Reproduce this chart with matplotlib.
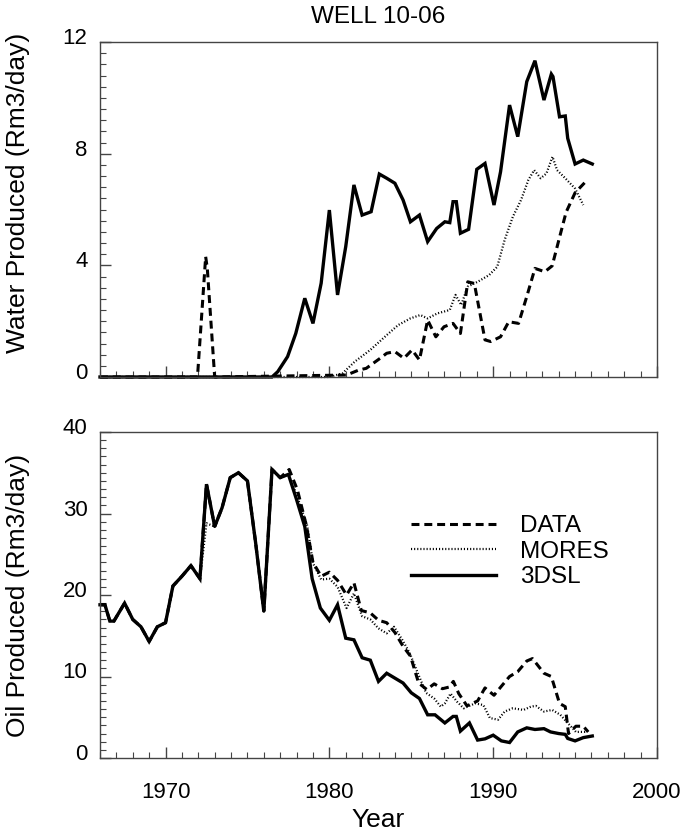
import matplotlib
matplotlib.use("Agg")
import matplotlib.pyplot as plt
import matplotlib.transforms as mtransforms
from matplotlib.ticker import MultipleLocator

plt.rcParams['font.family'] = ['Liberation Sans', 'DejaVu Sans']

# water produced (Rm3/day)
W_3DSL_YR = [1966.0, 1976.5, 1976.85, 1977.45, 1977.95, 1978.5, 1979.0, 1979.5, 1980.0, 1980.5,
             1981.0, 1981.5, 1982.0, 1982.55, 1983.05, 1983.5, 1984.0, 1984.5, 1984.95, 1985.5,
             1986.0, 1986.55, 1987.05, 1987.35, 1987.55, 1987.75, 1988.0, 1988.5, 1989.0, 1989.5,
             1990.05, 1990.45, 1991.0, 1991.5, 1992.05, 1992.55, 1993.1, 1993.55, 1993.65, 1994.05,
             1994.4, 1994.55, 1995.0, 1995.5, 1996.05]
W_3DSL = [0.0, 0.0, 0.19, 0.73, 1.56, 2.82, 1.92, 3.36, 5.98, 2.94,
          4.67, 6.88, 5.80, 5.92, 7.27, 7.12, 6.94, 6.34, 5.56, 5.80,
          4.85, 5.32, 5.56, 5.53, 6.28, 6.28, 5.15, 5.29, 7.44, 7.65,
          6.16, 7.35, 9.74, 8.61, 10.58, 11.33, 9.92, 10.85, 10.76, 9.32,
          9.35, 8.55, 7.63, 7.77, 7.63]

W_DATA_YR = [1966.0, 1971.95, 1972.45, 1972.55, 1973.0, 1981.05, 1981.8, 1982.25, 1983.1, 1983.5,
             1984.0, 1984.55, 1985.05, 1985.5, 1986.0, 1986.5, 1987.0, 1987.55, 1988.0, 1988.45,
             1988.85, 1989.5, 1989.85, 1990.45, 1990.95, 1991.55, 1992.05, 1992.55, 1993.15, 1993.6,
             1994.05, 1994.45, 1995.0, 1995.65]
W_DATA = [0.0, 0.0, 4.31, 3.89, 0.0, 0.07, 0.25, 0.31, 0.67, 0.85,
          0.91, 0.67, 0.97, 0.61, 2.04, 1.44, 1.80, 1.92, 1.56, 3.41,
          3.35, 1.33, 1.27, 1.44, 1.98, 1.92, 2.88, 3.89, 3.77, 3.98,
          5.0, 5.9, 6.6, 7.0]

W_MORES_YR = [1966.0, 1980.0, 1980.8, 1981.55, 1982.5, 1983.5, 1984.2, 1984.95, 1985.55, 1986.0,
              1986.6, 1987.35, 1987.7, 1988.05, 1988.45, 1989.05, 1989.75, 1990.25, 1990.7, 1991.2,
              1991.7, 1992.15, 1992.5, 1992.9, 1993.25, 1993.62, 1993.9, 1994.4, 1995.0, 1995.5]
W_MORES = [0.0, 0.0, 0.13, 0.55, 0.97, 1.50, 1.86, 2.10, 2.22, 2.10,
           2.28, 2.40, 2.94, 2.58, 3.24, 3.41, 3.65, 3.95, 4.91, 5.74,
           6.34, 7.06, 7.41, 7.12, 7.29, 7.89, 7.41, 7.12, 6.75, 6.16]

# oil produced (Rm3/day)
O_3DSL_YR = [1966.0, 1966.3, 1966.6, 1966.85, 1967.5, 1968.0, 1968.5, 1969.0, 1969.5, 1970.0,
             1970.45, 1971.0, 1971.55, 1972.1, 1972.5, 1973.0, 1973.45, 1973.95, 1974.45, 1975.0,
             1975.5, 1976.0, 1976.5, 1977.0, 1977.5, 1978.0, 1978.5, 1978.95, 1979.45, 1980.0,
             1980.5, 1981.0, 1981.5, 1982.0, 1982.5, 1983.0, 1983.5, 1984.0, 1984.5, 1985.0,
             1985.5, 1986.0, 1986.45, 1987.05, 1987.55, 1987.75, 1988.0, 1988.55, 1989.05, 1989.5,
             1990.0, 1990.5, 1991.0, 1991.5, 1992.05, 1992.55, 1993.1, 1993.5, 1994.0, 1994.4,
             1994.55, 1995.0, 1995.5, 1996.05]
O_3DSL = [18.8, 18.8, 16.8, 16.8, 19.0, 17.0, 16.1, 14.3, 16.1, 16.6,
          21.1, 22.3, 23.6, 22.0, 33.6, 28.4, 30.7, 34.4, 35.0, 34.0,
          26.4, 18.0, 35.4, 34.4, 34.8, 31.7, 28.4, 22.0, 18.4, 16.9,
          18.8, 14.7, 14.5, 12.3, 12.0, 9.4, 10.4, 9.8, 9.2, 8.0,
          7.3, 5.3, 5.3, 4.3, 5.1, 5.1, 3.3, 4.3, 2.2, 2.35,
          2.8, 2.1, 1.9, 3.2, 3.7, 3.5, 3.6, 3.2, 3.0, 2.9,
          2.4, 2.1, 2.5, 2.7]

O_DATA_YR = O_3DSL_YR[:24] + [1977.55, 1978.05, 1978.6, 1979.0, 1979.5, 1980.0, 1980.5, 1981.05,
                              1981.5, 1981.95, 1982.5, 1983.0, 1983.5, 1984.0, 1984.5, 1984.95,
                              1985.45, 1985.95, 1986.4, 1986.9, 1987.3, 1987.57, 1987.9, 1988.4,
                              1989.05, 1989.5, 1990.05, 1990.5, 1991.0, 1991.5, 1992.05, 1992.4,
                              1993.1, 1993.55, 1994.05, 1994.4, 1994.6, 1995.05, 1995.5, 1995.8]
O_DATA = O_3DSL[:24] + [35.4, 32.9, 28.5, 24.0, 22.3, 22.8, 21.8, 20.0,
                        21.5, 18.1, 17.8, 16.9, 16.6, 15.4, 13.7, 12.5,
                        9.2, 8.4, 9.1, 8.5, 8.7, 9.4, 7.9, 6.4,
                        7.0, 8.6, 7.7, 8.8, 10.0, 10.6, 11.9, 12.2,
                        10.4, 10.0, 6.7, 6.3, 3.0, 3.9, 3.9, 3.2]

O_MORES_YR = O_3DSL_YR[:24] + [1977.5, 1978.0, 1978.65, 1979.0, 1979.5, 1980.0, 1980.5, 1981.05,
                               1981.5, 1982.0, 1982.5, 1983.0, 1983.5, 1983.95, 1984.45, 1984.9,
                               1985.4, 1985.9, 1986.4, 1986.8, 1987.05, 1987.4, 1987.8, 1988.2,
                               1988.9, 1989.4, 1989.8, 1990.3, 1990.7, 1991.2, 1991.85, 1992.3,
                               1992.6, 1993.1, 1993.6, 1994.1, 1994.55, 1995.05, 1995.55, 1995.9]
O_MORES = O_3DSL[:14] + [28.8] + O_3DSL[15:24] + [34.8, 32.3, 28.5, 23.9, 21.9, 22.0, 21.0, 18.4,
                                                   20.2, 17.4, 17.0, 15.9, 15.3, 16.1, 14.5, 12.9,
                                                   10.4, 8.0, 7.3, 6.3, 6.7, 7.9, 6.9, 6.1,
                                                   6.7, 6.5, 4.9, 4.7, 5.7, 6.1, 5.9, 6.3,
                                                   6.4, 5.7, 5.9, 5.3, 4.3, 3.2, 3.2, 3.4]

LABELS = ["DATA", "MORES", "3DSL"]

W, H = 699, 832
fig = plt.figure(figsize=(W / 100, H / 100), dpi=100)
ax1 = fig.add_axes([100 / W, 1 - 377 / H, 557 / W, 335 / H])
ax2 = fig.add_axes([100 / W, 1 - 758 / H, 557 / W, 326 / H])

DASH = (0, (2.6, 1.6))
DOT = (0, (0.5, 0.9))


def draw(ax, series):
    (xd, yd), (xm, ym), (xs, ys) = series
    ax.plot(xd, yd, color="black", lw=2.2, linestyle=DASH, clip_on=False, label=LABELS[0])
    ax.plot(xm, ym, color="black", lw=1.6, linestyle=DOT, clip_on=False, label=LABELS[1])
    ax.plot(xs, ys, color="black", lw=2.4, solid_joinstyle="miter", clip_on=False, label=LABELS[2])


draw(ax1, [(W_DATA_YR, W_DATA), (W_MORES_YR, W_MORES), (W_3DSL_YR, W_3DSL)])
draw(ax2, [(O_DATA_YR, O_DATA), (O_MORES_YR, O_MORES), (O_3DSL_YR, O_3DSL)])

for ax in (ax1, ax2):
    ax.set_xlim(1966, 2000)
    ax.xaxis.set_major_locator(MultipleLocator(10))
    ax.xaxis.set_minor_locator(MultipleLocator(1))
    ax.tick_params(which="both", direction="in", top=False, right=False,
                   color="#444444", labelsize=16)
    ax.tick_params(which="major", length=8, width=1.0, pad=9)
    ax.tick_params(which="minor", length=4.5, width=0.8)
    for sp in ax.spines.values():
        sp.set_color("#444444")
        sp.set_linewidth(1.0)

ax1.set_ylim(0, 12)
ax1.yaxis.set_major_locator(MultipleLocator(4))
ax1.yaxis.set_minor_locator(MultipleLocator(0.4))
ax1.tick_params(axis="x", labelbottom=False)

ax2.set_ylim(0, 40)
ax2.yaxis.set_major_locator(MultipleLocator(10))
ax2.yaxis.set_minor_locator(MultipleLocator(1))
ax2.tick_params(axis="x", pad=17)

# tick numbers sit a little above their ticks
shift = mtransforms.ScaledTranslation(0, 0.06, fig.dpi_scale_trans)
for ax in (ax1, ax2):
    for lab in ax.get_yticklabels():
        lab.set_transform(lab.get_transform() + shift)

ax1.set_title("WELL 10-06", fontsize=17.5, pad=14)
ax1.set_ylabel("Water Produced (Rm3/day)", fontsize=19)
ax1.yaxis.set_label_coords(-0.126, 0.549)
ax2.set_ylabel("Oil Produced (Rm3/day)", fontsize=19)
ax2.yaxis.set_label_coords(-0.126, 0.5)
ax2.set_xlabel("Year", fontsize=19, labelpad=4)

ax2.legend(loc="upper left", bbox_to_anchor=(0.558, 0.745), frameon=False,
           fontsize=17.5, handlelength=3.5, handletextpad=1.0, labelspacing=0.15,
           borderpad=0, borderaxespad=0)

fig.savefig("out.png", dpi=100)
